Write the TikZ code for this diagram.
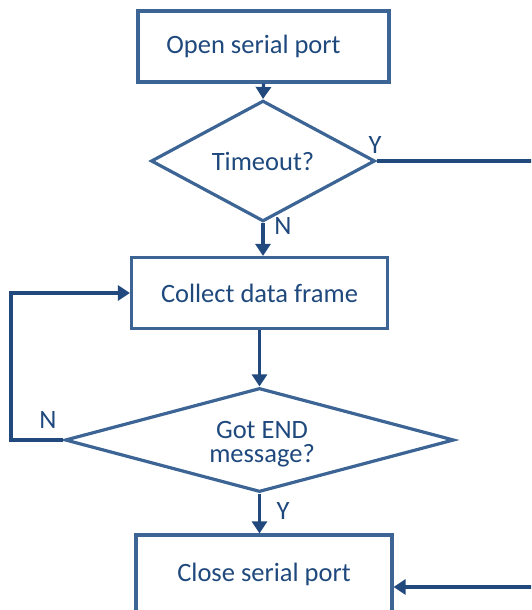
\documentclass[tikz,border=0pt]{standalone}
\usepackage{fontspec}
\setmainfont{Carlito}
\usetikzlibrary{shapes.geometric,arrows.meta}
\definecolor{txt}{HTML}{1F497D}
\definecolor{bord}{HTML}{3C6494}
\definecolor{conn}{HTML}{21497E}
\begin{document}
\begin{tikzpicture}[x=1pt,y=-1pt,
  every node/.style={font=\fontsize{26.5}{26.5}\selectfont, text=txt},
  procbox/.style={draw=bord, line width=3.2pt, rectangle, inner sep=0pt, align=center},
  decision/.style={draw=bord, line width=3.2pt, diamond, inner sep=0pt, align=center},
  arr/.style={draw=conn, line width=3.2pt, -{Triangle[length=12pt,width=15pt]}},
  ln/.style={draw=conn, line width=3.2pt}]
\useasboundingbox (0,0) rectangle (531,610);
\begin{scope}
\clip (0,0) rectangle (531,610);
\node[procbox, minimum width=251pt, minimum height=71pt] (open) at (263.5,46.5) {Open serial port\hspace{20pt}};
\node[decision, minimum width=224pt, minimum height=72pt] (to) at (263,161) {Timeout?};
\node[procbox, minimum width=256pt, minimum height=71pt] (collect) at (259.5,293) {Collect data frame};
\node[decision, minimum width=389pt, minimum height=104pt] (got) at (259.5,440) {};
\node[text=txt, align=center, font=\fontsize{26.5}{24}\selectfont] (gottext) at (262,444) {Got END\\message?};
\node[procbox, minimum width=256pt, minimum height=78pt] (close) at (264,574) {Close serial port};
\coordinate (r1) at (545,161);
\coordinate (r2) at (545,587);
\coordinate (l1) at (11,440);
\node (ylab1) at (375,145) {Y};
\node (nlab1) at (283,226) {N};
\node (nlab2) at (48,420) {N};
\node (ylab2) at (283,511) {Y};
\draw[arr] (open.south) -- (to.north);
\draw[arr] (to.south) -- (to.south |- collect.north);
\draw[arr] (collect.south) -- (collect.south |- got.north);
\draw[arr] (got.south) -- (got.south |- close.north);
\draw[arr] (got.west) -- (l1) |- (collect.west);
\draw[ln] (to.east) -- (r1) -- (r2);
\draw[arr] (r2) -- (r2 -| close.east);
\end{scope}
\end{tikzpicture}
\end{document}
